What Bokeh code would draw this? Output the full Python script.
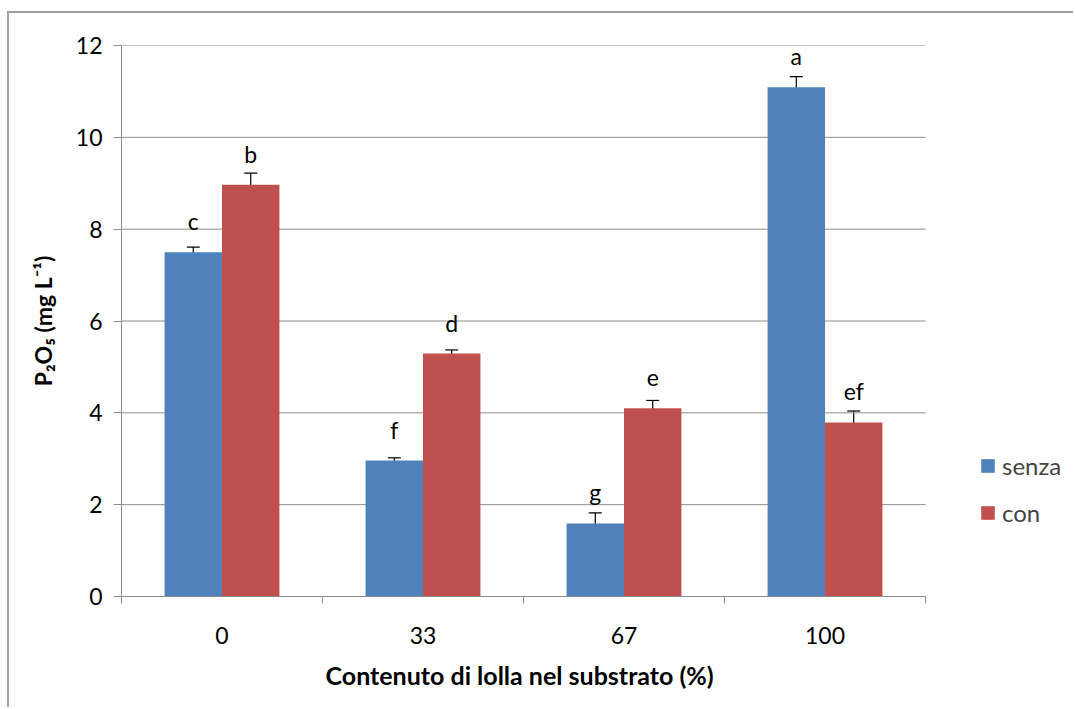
from bokeh.plotting import figure
from bokeh.models import (ColumnDataSource, Whisker, FixedTicker, Legend, LegendItem,
                          LabelSet, TeeHead, Title)
from bokeh.core.properties import value
from bokeh.embed import file_html
from bokeh.resources import INLINE

categories = ["0", "33", "67", "100"]
senza = [7.50, 2.96, 1.59, 11.09]
con = [8.97, 5.29, 4.10, 3.79]
senza_err = [0.11, 0.06, 0.23, 0.23]
con_err = [0.25, 0.08, 0.17, 0.25]
senza_letters = ["c", "f", "g", "a"]
con_letters = ["b", "d", "e", "ef"]
y_ticks = [0, 2, 4, 6, 8, 10, 12]
x_title = "Contenuto di lolla nel substrato (%)"
y_title = "P\u2082O\u2085 (mg L\u207b\u00b9)"

BLUE = "#4F81BD"
RED = "#C0504D"
GRID = "#8C8C8C"
FONT = "Lato"

n = len(categories)
centers = [i + 0.5 for i in range(n)]
bw = 1 / 3.5
xs_s = [c - bw / 2 for c in centers]
xs_c = [c + bw / 2 for c in centers]

src_s = ColumnDataSource(dict(x=xs_s, top=senza,
                              upper=[v + e for v, e in zip(senza, senza_err)],
                              lower=[v - e for v, e in zip(senza, senza_err)],
                              lab=senza_letters))
src_c = ColumnDataSource(dict(x=xs_c, top=con,
                              upper=[v + e for v, e in zip(con, con_err)],
                              lower=[v - e for v, e in zip(con, con_err)],
                              lab=con_letters))

# layout: canvas starts at (9, 13) in the page; the frame spans the plotting
# area plus the legend area on the right so the legend is not clipped
W, H = 1066, 696
LEFT = 112
plot_w = 804            # width of the category area in pixels
frame_w = W - LEFT
x_end = n * frame_w / plot_w

p = figure(width=W, height=H, x_range=(0, x_end), y_range=(0, 12),
           output_backend="svg", toolbar_location=None,
           min_border_left=LEFT, min_border_right=0,
           min_border_top=32, min_border_bottom=113)
p.styles = {"margin-left": "7px", "margin-top": "11px",
            "border-left": "2px solid #A0A0A0", "border-top": "2px solid #A0A0A0"}
p.outline_line_color = None
p.background_fill_color = "white"
p.border_fill_color = "white"

# horizontal gridlines limited to the category area
p.xgrid.grid_line_color = None
p.ygrid.grid_line_color = None
p.segment(x0=[0] * len(y_ticks), x1=[n] * len(y_ticks), y0=y_ticks, y1=y_ticks,
          line_color=GRID, line_width=1)

r_s = p.vbar(x="x", top="top", width=bw, bottom=0, source=src_s,
             fill_color=BLUE, line_color=None)
r_c = p.vbar(x="x", top="top", width=bw, bottom=0, source=src_c,
             fill_color=RED, line_color=None)

for src in (src_s, src_c):
    w = Whisker(base="x", upper="upper", lower="lower", source=src,
                line_color="black", line_width=1.2,
                upper_head=TeeHead(size=13, line_color="black", line_width=1.2),
                lower_head=TeeHead(size=13, line_color="black", line_width=1.2))
    p.add_layout(w)
    lbl = LabelSet(x="x", y="top", text="lab", source=src,
                   text_align="center", text_baseline="alphabetic",
                   y_offset=22, text_font=value(FONT), text_font_size="23px",
                   text_color="black")
    p.add_layout(lbl)

# axes
p.xaxis.bounds = (0, n)
p.xaxis.ticker = FixedTicker(ticks=centers, minor_ticks=list(range(n + 1)))
p.xaxis.major_label_overrides = {c: lab for c, lab in zip(centers, categories)}
p.xaxis.major_tick_out = 0
p.xaxis.major_tick_in = 0
p.xaxis.minor_tick_out = 7
p.xaxis.minor_tick_in = 0
p.xaxis.minor_tick_line_color = GRID
p.xaxis.axis_line_color = GRID
p.xaxis.major_label_text_font = FONT
p.xaxis.major_label_text_font_size = "23px"
p.xaxis.major_label_text_color = "black"
p.xaxis.major_label_standoff = 23

# x-axis title centred under the category area
p.add_layout(Title(text=x_title, align="left", offset=204, standoff=22,
                   text_font=FONT, text_font_size="25px",
                   text_font_style="bold", text_color="black"), "below")

p.yaxis.ticker = FixedTicker(ticks=y_ticks, minor_ticks=[])
p.yaxis.major_tick_out = 8
p.yaxis.major_tick_in = 0
p.yaxis.major_tick_line_color = GRID
p.yaxis.axis_line_color = GRID
p.yaxis.major_label_text_font = FONT
p.yaxis.major_label_text_font_size = "23px"
p.yaxis.major_label_text_color = "black"
p.yaxis.major_label_standoff = 11
p.yaxis.axis_label = y_title
p.yaxis.axis_label_text_font = FONT
p.yaxis.axis_label_text_font_size = "23px"
p.yaxis.axis_label_text_font_style = "bold"
p.yaxis.axis_label_text_color = "black"
p.yaxis.axis_label_standoff = 16

legend = Legend(items=[LegendItem(label="senza", renderers=[r_s]),
                       LegendItem(label="con", renderers=[r_c])],
                location=(plot_w + 54, 69), orientation="vertical",
                label_text_font=FONT, label_text_font_size="24px",
                glyph_width=17, glyph_height=17, label_height=17,
                spacing=18, padding=0, margin=0, label_standoff=6,
                border_line_color=None, background_fill_alpha=0)
p.add_layout(legend)

open("out.html", "w").write(file_html(p, INLINE))
